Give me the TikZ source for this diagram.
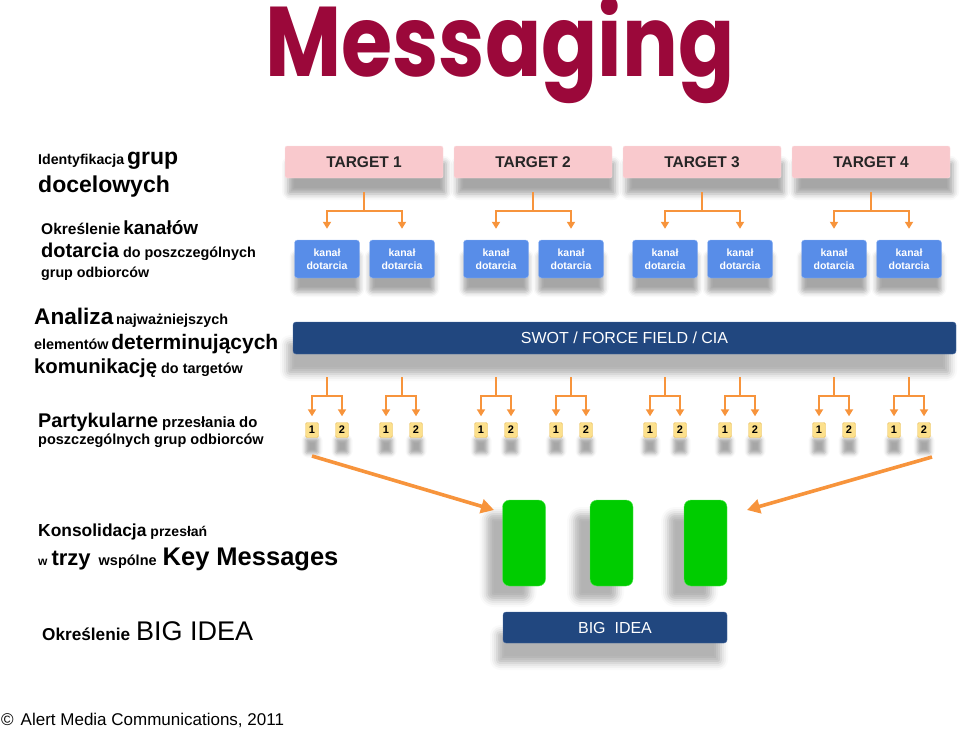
\documentclass[tikz,border=0pt]{standalone}
\usepackage{fontspec}
\setmainfont{Liberation Sans}
\newfontfamily\titlefont{Poppins}
\usetikzlibrary{arrows.meta,shadows.blur,calc}
\definecolor{titlered}{RGB}{155,8,58}
\definecolor{pinkfill}{RGB}{249,201,205}
\definecolor{kanalfill}{RGB}{88,141,232}
\definecolor{kanalborder}{RGB}{150,185,245}
\definecolor{barblue}{RGB}{33,71,127}
\definecolor{barborder}{RGB}{70,105,160}
\definecolor{orangeline}{RGB}{247,148,60}
\definecolor{greenfill}{RGB}{0,204,0}
\definecolor{greenborder}{RGB}{90,235,90}
\definecolor{numfill}{RGB}{252,224,140}
\definecolor{numborder}{RGB}{232,190,95}
\newcommand{\txs}[2]{{\fontsize{#1}{#1}\selectfont #2}}
\begin{document}
\begin{tikzpicture}[x=1pt,y=-1pt,
  target/.style={draw=pinkfill!60!white, fill=pinkfill, rounded corners=2pt,
    minimum width=158pt, minimum height=32pt, inner sep=0pt,
    font=\bfseries\fontsize{15.5}{16}\selectfont, text=black!85,
    blur shadow={shadow xshift=3pt, shadow yshift=-16pt, shadow opacity=35, shadow blur radius=6pt}},
  kanal/.style={draw=kanalborder, fill=kanalfill, rounded corners=3pt,
    minimum width=65pt, minimum height=38pt, inner sep=0pt, align=center,
    text=white, font=\bfseries\fontsize{10.5}{12.5}\selectfont,
    blur shadow={shadow xshift=0pt, shadow yshift=-14pt, shadow opacity=35, shadow blur radius=5pt}},
  num/.style={draw=numborder, fill=numfill, rounded corners=1.5pt,
    minimum width=13pt, minimum height=15pt, inner sep=0pt,
    font=\bfseries\fontsize{11}{11}\selectfont,
    blur shadow={shadow xshift=0pt, shadow yshift=-16pt, shadow opacity=35, shadow blur radius=4pt}},
  bar/.style={draw=barborder, fill=barblue, rounded corners=3pt, inner sep=0pt,
    text=white, font=\fontsize{16}{16}\selectfont,
    blur shadow={shadow xshift=-6pt, shadow yshift=-20pt, shadow opacity=30, shadow blur radius=7pt}},
  greenbox/.style={draw=greenborder, fill=greenfill, rounded corners=7pt,
    minimum width=43pt, minimum height=86pt, inner sep=0pt,
    blur shadow={shadow xshift=-16pt, shadow yshift=-14pt, shadow opacity=30, shadow blur radius=7pt}},
  tree/.style={draw=orangeline, line width=2.4pt,
    -{Triangle[length=7pt,width=8pt]}},
  bigarrow/.style={draw=orangeline, line width=3.6pt,
    -{Triangle[length=13pt,width=14pt]}},
  lbl/.style={anchor=base west, inner sep=0pt, font=\bfseries, text=black}
]
\useasboundingbox (0,0) rectangle (960,728);

% title
\node[anchor=base west, inner sep=0pt, text=titlered] (title) at (265,76)
  {\scalebox{0.838}[1]{\titlefont\bfseries\fontsize{99}{99}\selectfont Messaging}};

% targets
\foreach \i/\x in {1/364,2/533,3/702,4/871}
  \node[target] (t\i) at (\x,162) {TARGET \i};

% channels
\foreach \i/\x in {1/327,2/402,3/496,4/571,5/665,6/740,7/834,8/909}
  \node[kanal] (k\i) at (\x,259) {kanał\\dotarcia};

\foreach \t/\a/\b in {1/1/2,2/3/4,3/5/6,4/7/8} {
  \draw[tree, shorten <=14pt, shorten >=11pt] (t\t.south) -- ++(0,33) -| (k\a.north);
  \draw[tree, shorten <=14pt, shorten >=11pt] (t\t.south) -- ++(0,33) -| (k\b.north);
}

% SWOT bar
\node[bar, minimum width=663pt, minimum height=32pt] (swot) at (624.5,338) {SWOT / FORCE FIELD / CIA};

% number boxes
\foreach \i/\x in {1/327,2/401,3/496,4/571,5/665,6/740,7/834,8/909} {
  \node[num] (na\i) at ({\x-15},430) {1};
  \node[num] (nb\i) at ({\x+15},430) {2};
  \draw[tree, shorten <=23pt, shorten >=6pt] (swot.south -| k\i.south) -- ++(0,42) -| (na\i.north);
  \draw[tree, shorten <=23pt, shorten >=6pt] (swot.south -| k\i.south) -- ++(0,42) -| (nb\i.north);
}

% key messages
\node[greenbox] (g1) at (524,543) {};
\node[greenbox] (g2) at (611.5,543) {};
\node[greenbox] (g3) at (705.5,543) {};

% big idea
\node[bar, minimum width=224pt, minimum height=31pt] (big) at (615,627.5) {BIG\ \ IDEA};

% big arrows
\coordinate (la) at (312,456);
\coordinate (lt) at (494,510);
\coordinate (ra) at (932,457);
\coordinate (rt) at (747,510);
\draw[bigarrow] (la) -- (lt);
\draw[bigarrow] (ra) -- (rt);

% left labels
\node[lbl] (l1) at (38,164) {\txs{14.2}{Identyfikacja} \txs{23}{grup}};
\node[lbl] (l2) at (38,192) {\txs{23}{docelowych}};
\node[lbl] (l3) at (41,234) {\txs{15.5}{Określenie} \txs{19}{kanałów}};
\node[lbl] (l4) at (41,257) {\txs{20}{dotarcia}\hspace{4pt}\txs{14.4}{do poszczególnych}};
\node[lbl] (l5) at (41,277) {\txs{14.3}{grup odbiorców}};
\node[lbl] (l6) at (34,324) {\txs{22.6}{Analiza} \txs{14.4}{najważniejszych}};
\node[lbl] (l7) at (34,349) {\txs{14.4}{elementów} \txs{21}{determinujących}};
\node[lbl] (l8) at (34,373) {\txs{20.3}{komunikację}\hspace{4pt}\txs{14.4}{do targetów}};
\node[lbl] (l9) at (38,427) {\txs{19.8}{Partykularne}\hspace{4pt}\txs{14.9}{przesłania do}};
\node[lbl] (l10) at (38,444) {\txs{14.5}{poszczególnych grup odbiorców}};
\node[lbl] (l11) at (38,536) {\txs{17.4}{Konsolidacja}\hspace{4pt}\txs{14}{przesłań}};
\node[lbl] (l12) at (38,565) {\txs{12}{w}\hspace{4pt}\txs{22}{trzy}\hspace{8pt}\txs{14.5}{wspólne}\hspace{6pt}\txs{25.5}{Key Messages}};
\node[lbl] (l13) at (42,640) {\txs{17.2}{Określenie}\hspace{6pt}{\mdseries\txs{27}{BIG IDEA}}};

% footer
\node[anchor=base west, inner sep=0pt, font=\fontsize{17}{17}\selectfont] (foot) at (1,725)
  {©\hspace{7pt}Alert Media Communications, 2011};
\end{tikzpicture}
\end{document}
